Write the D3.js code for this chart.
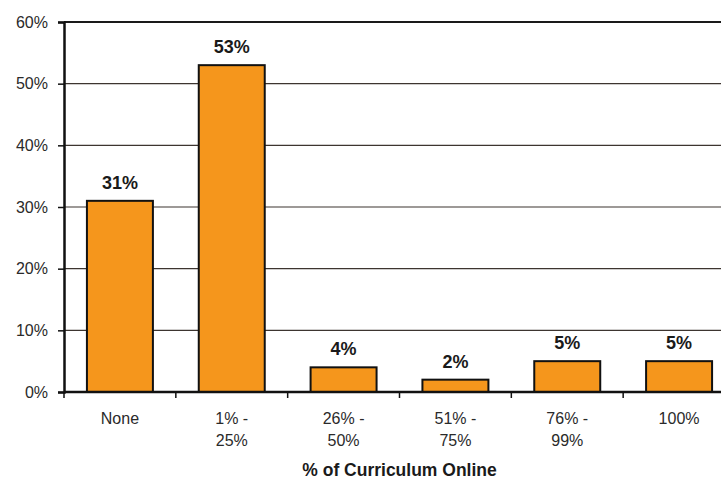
<!DOCTYPE html>
<html>
<head>
<meta charset="utf-8">
<script src="https://cdn.jsdelivr.net/npm/d3@7"></script>
<style>
  html, body { margin: 0; padding: 0; background: #fff; }
  svg { display: block; }
  text { font-family: "Liberation Sans", Arial, sans-serif; }
</style>
</head>
<body>
<svg id="chart" width="721" height="479"></svg>
<script>
// Share of curriculum delivered online
const categories = [["None"], ["1% -", "25%"], ["26% -", "50%"], ["51% -", "75%"], ["76% -", "99%"], ["100%"]];
const values = [31, 53, 4, 2, 5, 5];
const yTicks = [0, 10, 20, 30, 40, 50, 60];
const xTitle = "% of Curriculum Online";

const svg = d3.select("#chart");
const plotLeft = 64, plotRight = 735, plotTop = 22, plotBottom = 392;

const x = d3.scaleBand()
  .domain(d3.range(categories.length))
  .range([plotLeft, plotRight])
  .paddingInner(0.41)
  .paddingOuter(0.205);

const y = d3.scaleLinear().domain([0, 60]).range([plotBottom, plotTop]);

// Horizontal gridlines
svg.append("g")
  .selectAll("line")
  .data(yTicks.filter(t => t > 0))
  .join("line")
  .attr("x1", plotLeft).attr("x2", plotRight)
  .attr("y1", d => y(d)).attr("y2", d => y(d))
  .attr("stroke", d => d === 60 ? "#1a1a1a" : "#3d3530")
  .attr("stroke-width", d => d === 60 ? 2 : 1.2);

// Bars
svg.append("g")
  .selectAll("rect")
  .data(values)
  .join("rect")
  .attr("x", (d, i) => x(i))
  .attr("width", x.bandwidth())
  .attr("y", d => y(d))
  .attr("height", d => y(0) - y(d))
  .attr("fill", "#F5961C")
  .attr("stroke", "#111")
  .attr("stroke-width", 2);

// Value labels
svg.append("g")
  .selectAll("text")
  .data(values)
  .join("text")
  .attr("x", (d, i) => x(i) + x.bandwidth() / 2)
  .attr("y", d => y(d) - 12)
  .attr("text-anchor", "middle")
  .attr("font-size", 18)
  .attr("font-weight", "bold")
  .attr("fill", "#1a1a1a")
  .text(d => d + "%");

// Y axis
const yAxis = d3.axisLeft(y)
  .tickValues(yTicks)
  .tickFormat(d => d + "%")
  .tickSize(6)
  .tickPadding(10);
const gy = svg.append("g").attr("transform", `translate(${plotLeft},0)`).call(yAxis);
gy.select(".domain").attr("stroke", "#111").attr("stroke-width", 2.5);
gy.selectAll(".tick line").attr("stroke", "#111").attr("stroke-width", 1.5);
gy.selectAll(".tick text")
  .attr("font-size", 16)
  .attr("fill", "#2a2a2a")
  .attr("font-family", "'Liberation Sans', Arial, sans-serif");

// X axis: ticks sit on category boundaries
const xb = d3.scaleLinear().domain([0, categories.length]).range([plotLeft, plotRight]);
const gx = svg.append("g").attr("transform", `translate(0,${plotBottom})`);
gx.append("line")
  .attr("x1", plotLeft).attr("x2", plotRight)
  .attr("stroke", "#111").attr("stroke-width", 2.5);
gx.selectAll("line.tk")
  .data(d3.range(categories.length + 1))
  .join("line")
  .attr("class", "tk")
  .attr("x1", d => xb(d)).attr("x2", d => xb(d))
  .attr("y1", 0).attr("y2", 6)
  .attr("stroke", "#111").attr("stroke-width", 1.5);

const labels = gx.selectAll("text.cat")
  .data(categories)
  .join("text")
  .attr("class", "cat")
  .attr("text-anchor", "middle")
  .attr("font-size", 16)
  .attr("fill", "#2a2a2a");
labels.each(function(lines, i) {
  const t = d3.select(this);
  lines.forEach((ln, j) => {
    t.append("tspan")
      .attr("x", x(i) + x.bandwidth() / 2)
      .attr("y", 32 + j * 22)
      .text(ln);
  });
});

// Axis title
svg.append("text")
  .attr("x", (plotLeft + plotRight) / 2)
  .attr("y", 476)
  .attr("text-anchor", "middle")
  .attr("font-size", 17.5)
  .attr("font-weight", "bold")
  .attr("fill", "#1a1a1a")
  .text(xTitle);
</script>
</body>
</html>
